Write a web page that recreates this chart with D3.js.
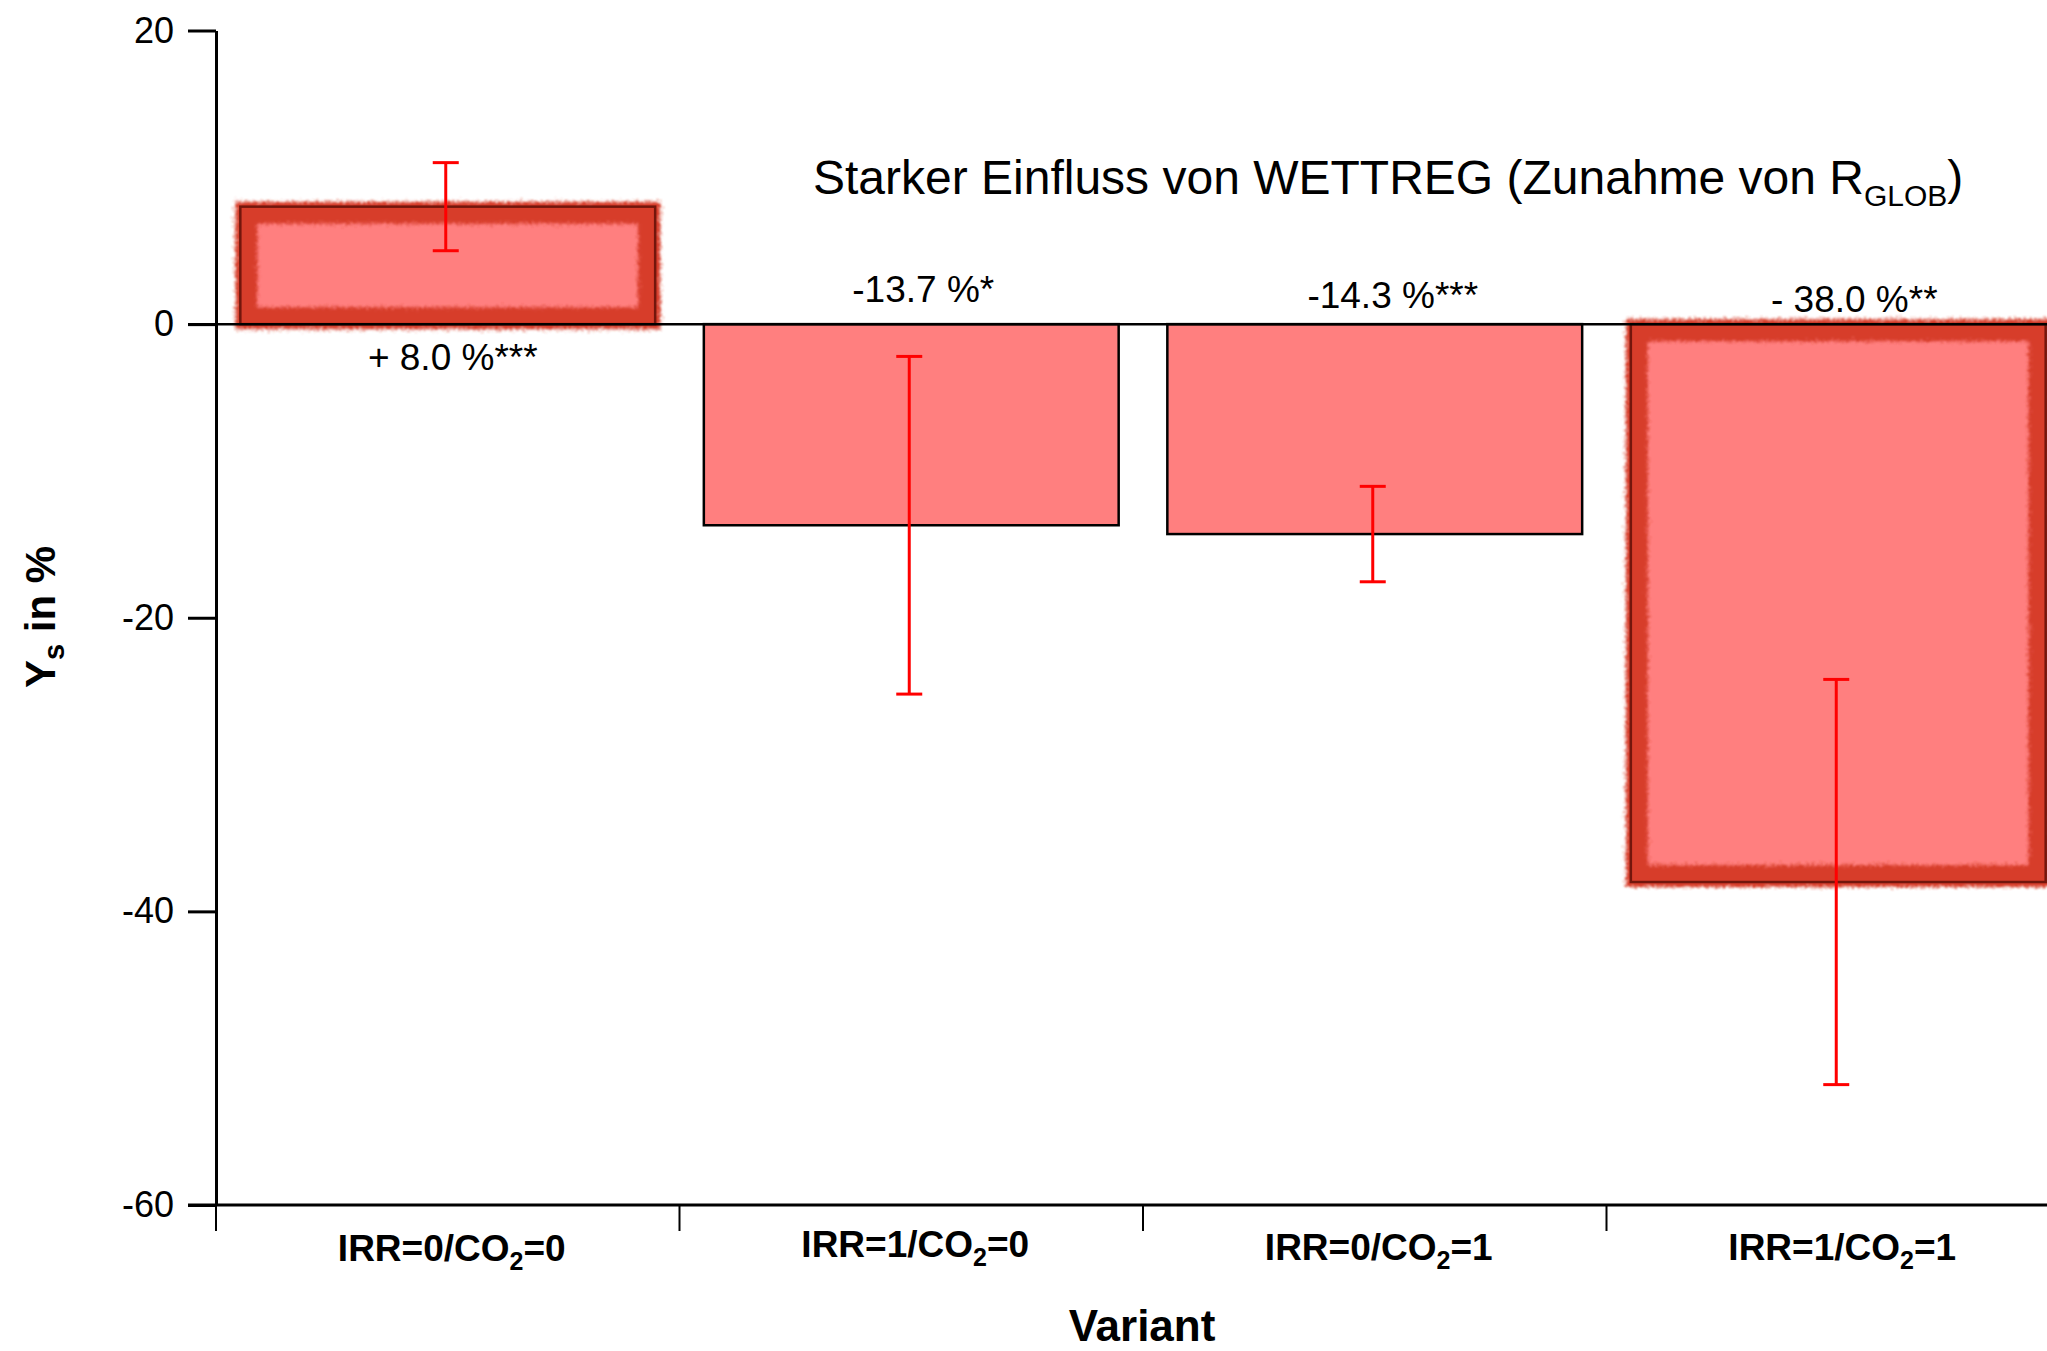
<!DOCTYPE html>
<html>
<head>
<meta charset="utf-8">
<script src="https://cdn.jsdelivr.net/npm/d3@7/dist/d3.min.js"></script>
<style>
  html, body { margin: 0; padding: 0; background: #fff; }
  svg { display: block; font-family: "Liberation Sans", Arial, sans-serif; }
</style>
</head>
<body>
<svg id="chart" width="2047" height="1351"></svg>
<script>
// Yield change per variant (percent) with error bar half-widths
const categories = ["IRR=0/CO2=0", "IRR=1/CO2=0", "IRR=0/CO2=1", "IRR=1/CO2=1"];
const changes = [8.0, -13.7, -14.3, -38.0];
const errors = [3.0, 11.5, 3.25, 13.8];
const valueLabels = ["+ 8.0 %***", "-13.7 %*", "-14.3 %***", "- 38.0 %**"];
const emphasised = [true, false, false, true];
const yTicks = [20, 0, -20, -40, -60];

// label placement relative to bar centre / zero line
const labelDx = [5, 12, 18, 16];
const labelDy = [46, -22, -16, -12];
const categoryDy = [0, -4, -1, -1];

const svg = d3.select("#chart");
const plotLeft = 216, plotTop = 30.5, plotBottom = 1205, plotRight = 2070;

const y = d3.scaleLinear().domain([-60, 20]).range([plotBottom, plotTop]);
const x = d3.scaleBand().domain(categories).range([plotLeft, plotRight])
  .paddingInner(0.105).paddingOuter(0.0525);

// rough red frame filter for the highlighted bars
const defs = svg.append("defs");
const f = defs.append("filter").attr("id", "rough")
  .attr("x", "-10%").attr("y", "-10%").attr("width", "120%").attr("height", "120%");
f.append("feTurbulence").attr("type", "fractalNoise").attr("baseFrequency", "0.8")
  .attr("numOctaves", 3).attr("seed", 3).attr("result", "noise");
f.append("feDisplacementMap").attr("in", "SourceGraphic").attr("in2", "noise")
  .attr("scale", 11).attr("xChannelSelector", "R").attr("yChannelSelector", "G").attr("result", "disp");
f.append("feGaussianBlur").attr("in", "disp").attr("stdDeviation", 0.9);

// bars
const bars = svg.append("g");
categories.forEach((c, i) => {
  const v = changes[i];
  const x0 = x(c), w = x.bandwidth();
  const y0 = Math.min(y(v), y(0)), h = Math.abs(y(v) - y(0));
  bars.append("rect").attr("x", x0).attr("y", y0).attr("width", w).attr("height", h)
    .attr("fill", "#ff7f7f");
  if (emphasised[i]) {
    const o = 5, ins = 17;
    const outer = `M${x0 - o},${y0 - o}h${w + 2 * o}v${h + 2 * o}h${-(w + 2 * o)}Z`;
    const inner = `M${x0 + ins},${y0 + ins}h${w - 2 * ins}v${h - 2 * ins}h${-(w - 2 * ins)}Z`;
    bars.append("path").attr("d", outer + inner).attr("fill-rule", "evenodd")
      .attr("fill", "#d73e2c").attr("filter", "url(#rough)");
    bars.append("rect").attr("x", x0).attr("y", y0).attr("width", w).attr("height", h)
      .attr("fill", "none").attr("stroke", "#5a0d05").attr("stroke-width", 2.5).attr("opacity", 0.8);
  } else {
    bars.append("rect").attr("x", x0).attr("y", y0).attr("width", w).attr("height", h)
      .attr("fill", "none").attr("stroke", "#000").attr("stroke-width", 2.5);
  }
});

// zero line
svg.append("line").attr("x1", plotLeft - 28).attr("x2", 2047)
  .attr("y1", y(0)).attr("y2", y(0)).attr("stroke", "#000").attr("stroke-width", 2.5);

// error bars
const eb = svg.append("g").attr("stroke", "#f00").attr("stroke-width", 3);
categories.forEach((c, i) => {
  const cx = x(c) + x.bandwidth() / 2 - 2;
  const hi = y(changes[i] + errors[i]), lo = y(changes[i] - errors[i]);
  eb.append("line").attr("x1", cx).attr("x2", cx).attr("y1", hi).attr("y2", lo);
  eb.append("line").attr("x1", cx - 13).attr("x2", cx + 13).attr("y1", hi).attr("y2", hi);
  eb.append("line").attr("x1", cx - 13).attr("x2", cx + 13).attr("y1", lo).attr("y2", lo);
});

// value labels
categories.forEach((c, i) => {
  svg.append("text").attr("x", x(c) + x.bandwidth() / 2 + labelDx[i]).attr("y", y(0) + labelDy[i])
    .attr("text-anchor", "middle").attr("font-size", 37).attr("fill", "#000")
    .text(valueLabels[i]);
});

// y axis
const yAxis = svg.append("g").attr("transform", `translate(${plotLeft},0)`)
  .call(d3.axisLeft(y).tickValues(yTicks).tickSize(28).tickSizeOuter(0).tickPadding(14)
    .tickFormat(d => String(d)));
yAxis.select(".domain").attr("stroke-width", 3);
yAxis.selectAll(".tick line").attr("stroke-width", 3);
yAxis.selectAll(".tick text").attr("font-size", 36).attr("font-family", "Liberation Sans, Arial, sans-serif")
  .attr("fill", "#000");

// x axis
svg.append("line").attr("x1", plotLeft - 28).attr("x2", 2047).attr("y1", plotBottom).attr("y2", plotBottom)
  .attr("stroke", "#000").attr("stroke-width", 3);
categories.forEach(c => {
  const bx = x(c) - x.step() * x.paddingOuter();
  svg.append("line").attr("x1", bx).attr("x2", bx).attr("y1", plotBottom).attr("y2", plotBottom + 26)
    .attr("stroke", "#000").attr("stroke-width", 2);
});
categories.forEach((c, i) => {
  const parts = c.split("CO2");
  const t = svg.append("text").attr("x", x(c) + x.bandwidth() / 2 + 4).attr("y", 1261 + categoryDy[i])
    .attr("text-anchor", "middle").attr("font-size", 37).attr("font-weight", "bold");
  t.append("tspan").text(parts[0] + "CO");
  t.append("tspan").attr("font-size", 25).attr("dy", 9).text("2");
  t.append("tspan").attr("dy", -9).text(parts[1]);
});

// axis titles
svg.append("text").attr("x", 1142).attr("y", 1341)
  .attr("text-anchor", "middle").attr("font-size", 44).attr("font-weight", "bold").text("Variant");
const yt = svg.append("text").attr("transform", `translate(55,617) rotate(-90)`)
  .attr("text-anchor", "middle").attr("font-size", 42).attr("font-weight", "bold");
yt.append("tspan").text("Y");
yt.append("tspan").attr("font-size", 29).attr("dy", 9).text("s");
yt.append("tspan").attr("dy", -9).text(" in %");

// annotation
const ann = svg.append("text").attr("x", 813).attr("y", 194).attr("font-size", 48);
ann.append("tspan").text("Starker Einfluss von WETTREG (Zunahme von R");
ann.append("tspan").attr("font-size", 30).attr("dy", 12).text("GLOB");
ann.append("tspan").attr("dy", -12).text(")");
</script>
</body>
</html>
